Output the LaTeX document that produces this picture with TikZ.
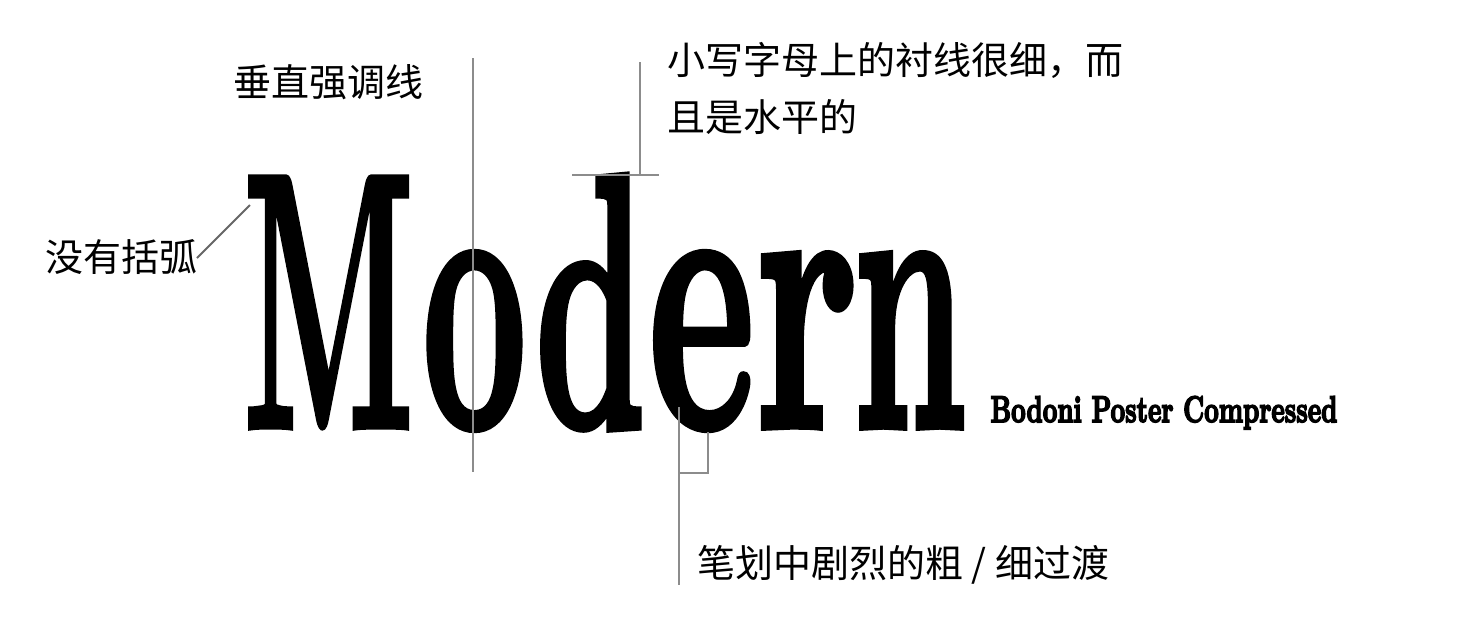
\documentclass[tikz,border=0pt]{standalone}
\usepackage{fontspec}
\usepackage{graphicx}
\newfontfamily\cjk{Noto Sans CJK SC}
\newfontfamily\didone{lmroman10-bold.otf}[FakeBold=2]
\newfontfamily\didoneheavy{lmroman10-bold.otf}[FakeBold=5]
\begin{document}
\begin{tikzpicture}[x=0.5pt,y=-0.5pt,
  guide/.style={draw=black!45, line width=1pt},
  cjklabel/.style={font=\cjk\fontsize{19pt}{29pt}\selectfont, inner sep=0pt, anchor=west, text=black},
  cjkline/.style={cjklabel, anchor=base west},
  bigword/.style={inner sep=0pt, anchor=base west}]
\useasboundingbox (0,0) rectangle (1466,634);

% the big specimen word
\node[bigword] (word) at (243,427) {\didone\fontsize{181.5pt}{181.5pt}\selectfont
  \scalebox{0.43}[1]{M}\kern4.25pt
  \scalebox{0.50}[1.06]{o}\kern4.25pt
  \scalebox{0.48}[1]{d}\kern1pt
  \scalebox{0.557}[1.06]{e}\kern0pt
  \scalebox{0.60}[1.06]{r}\kern-2.75pt
  \scalebox{0.49}[1.06]{n}};

% font name
\node[bigword] (fontname) at (990,422) {\didoneheavy\fontsize{18.5pt}{18.5pt}\selectfont\scalebox{0.686}[1]{Bodoni Poster Compressed}};

% labels
\node[cjklabel] (stress) at (233,82) {垂直强调线};
\node[cjkline] (serif) at (667,74) {\makebox[228pt][s]{小\hfil 写\hfil 字\hfil 母\hfil 上\hfil 的\hfil 衬\hfil 线\hfil 很\hfil 细\hfil ，\hfil 而}};
\node[cjkline] (serif2) at (667,131) {且是水平的};
\node[cjklabel] (nobracket) at (45,257) {没有括弧};
\node[cjklabel] (contrast) at (697,565) {笔划中剧烈的粗 / 细过渡};

% guide lines
\coordinate (stressTop) at (473,58);
\coordinate (stressBot) at (473,472);
\draw[guide] (stressTop) -- (stressBot);

\coordinate (serifTop) at (640,62);
\coordinate (serifL) at (572,175);
\coordinate (serifR) at (659,175);
\draw[guide] (serifTop) -- (serifTop |- serifL);
\draw[guide] (serifL) -- (serifR);

\coordinate (brTop) at (679,407);
\coordinate (brBot) at (679,585);
\coordinate (brCorner) at (679,473);
\coordinate (brTip) at (708,432);
\draw[guide] (brTop) -- (brBot);
\draw[guide] (brCorner) -- (brTip |- brCorner) -- (brTip);

\coordinate (diagA) at (197,258);
\coordinate (diagB) at (250,205);
\draw[guide, draw=black!60] (diagA) -- (diagB);
\end{tikzpicture}
\end{document}
